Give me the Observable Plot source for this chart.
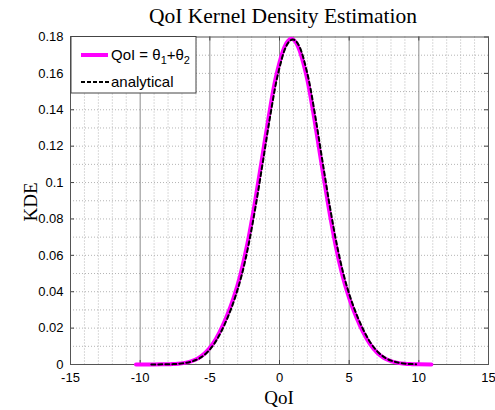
<!DOCTYPE html>
<html>
<head>
<meta charset="utf-8">
<script src="https://cdn.jsdelivr.net/npm/d3@7"></script>
<script src="https://cdn.jsdelivr.net/npm/@observablehq/plot@0.6"></script>
<style>
  html, body { margin: 0; padding: 0; background: #fff; }
  #wrap { position: relative; width: 495px; height: 410px; overflow: hidden; }
  #overlay { position: absolute; left: 0; top: 0; pointer-events: none; }
</style>
</head>
<body>
<div id="wrap"><div id="chart"></div>
<svg id="overlay" width="495" height="410" xmlns="http://www.w3.org/2000/svg">
  <text x="283" y="23" text-anchor="middle" font-family="'Liberation Serif', 'Times New Roman', serif" font-size="21.5" fill="#000">QoI Kernel Density Estimation</text>
  <text x="279" y="404" text-anchor="middle" font-family="'Liberation Serif', 'Times New Roman', serif" font-size="19" fill="#000">QoI</text>
  <text transform="translate(37,202) rotate(-90)" text-anchor="middle" font-family="'Liberation Serif', 'Times New Roman', serif" font-size="19" fill="#000">KDE</text>
  <g id="legend">
    <rect x="71" y="36.5" width="125" height="56.5" fill="#fff" stroke="#444" stroke-width="1"/>
    <line x1="81" y1="55" x2="108" y2="55" stroke="#ff00ff" stroke-width="4"/>
    <text x="111" y="60" font-family="'Liberation Sans', Arial, sans-serif" font-size="15" fill="#000">QoI = θ<tspan font-size="11" dy="4">1</tspan><tspan dy="-4">+θ</tspan><tspan font-size="11" dy="4">2</tspan></text>
    <line x1="81" y1="82" x2="109" y2="82" stroke="#000" stroke-width="2" stroke-dasharray="4,2"/>
    <text x="111" y="87" font-family="'Liberation Sans', Arial, sans-serif" font-size="15" fill="#000">analytical</text>
  </g>
</svg>
</div>
<script>
// ---- data ----
const kdeX = [-10.3, -9, -8.3, -7.8, -7.3, -6.8, -6.3, -5.8, -5.3, -4.8, -4.3, -3.8, -3.3, -2.8, -2.3, -1.8, -1.3, -0.8, -0.3, -0.15, 0.35, 0.85, 1.35, 1.85, 2, 2.5, 3, 3.5, 4, 4.5, 5, 5.5, 6, 6.5, 7, 7.5, 8, 8.5, 9, 9.5, 10, 10.9];
const kdeY = [0, 0, 0.0001, 0.0002, 0.0004, 0.0009, 0.0019, 0.0036, 0.0066, 0.0112, 0.0178, 0.0262, 0.0365, 0.0495, 0.0665, 0.0875, 0.1110, 0.1350, 0.1565, 0.1615, 0.1744, 0.1790, 0.1744, 0.1615, 0.1565, 0.1350, 0.1110, 0.0875, 0.0665, 0.0495, 0.0365, 0.0262, 0.0178, 0.0112, 0.0066, 0.0036, 0.0019, 0.0009, 0.0004, 0.0002, 0.0001, 0];

const anaX = [-9.2, -8.2, -7.7, -7.2, -6.7, -6.2, -5.7, -5.2, -4.7, -4.2, -3.7, -3.2, -2.7, -2.2, -1.7, -1.2, -0.7, -0.2, -0.05, 0.45, 0.95, 1.45, 1.95, 2.1, 2.6, 3.1, 3.6, 4.1, 4.6, 5.1, 5.6, 6.1, 6.6, 7.1, 7.6, 8.1, 8.6, 9.1, 9.6, 9.8];
const anaY = [0, 0.0001, 0.0002, 0.0004, 0.0009, 0.0019, 0.0036, 0.0066, 0.0112, 0.0178, 0.0262, 0.0365, 0.0495, 0.0665, 0.0875, 0.1110, 0.1350, 0.1565, 0.1615, 0.1744, 0.1786, 0.1744, 0.1615, 0.1565, 0.1350, 0.1110, 0.0875, 0.0665, 0.0495, 0.0365, 0.0262, 0.0178, 0.0112, 0.0066, 0.0036, 0.0019, 0.0009, 0.0004, 0.0002, 0.0001];

const xTicks = [-15, -10, -5, 0, 5, 10, 15];
const yTicks = [0, 0.02, 0.04, 0.06, 0.08, 0.1, 0.12, 0.14, 0.16, 0.18];
const xMajorGrid = [-10, -5, 0, 5, 10];
const xMinorGrid = [-14, -13, -12, -11, -9, -8, -7, -6, -4, -3, -2, -1, 1, 2, 3, 4, 6, 7, 8, 9, 11, 12, 13, 14];
const yMinorGrid = [0.01, 0.02, 0.03, 0.04, 0.05, 0.06, 0.07, 0.08, 0.09, 0.1, 0.11, 0.12, 0.13, 0.14, 0.15, 0.16, 0.17];

const kde = kdeX.map((x, i) => ({x, y: kdeY[i]}));
const ana = anaX.map((x, i) => ({x, y: anaY[i]}));

const fmt = d => String(+d.toFixed(2));

const chart = Plot.plot({
  width: 495,
  height: 410,
  marginLeft: 70,
  marginRight: 7,
  marginTop: 36.5,
  marginBottom: 46,
  style: {fontFamily: "'Liberation Sans', Arial, sans-serif", fontSize: "13px", color: "#000", background: "#fff"},
  x: {domain: [-15, 15]},
  y: {domain: [0, 0.18]},
  marks: [
    Plot.gridX(xMinorGrid, {stroke: "#b4b4b4", strokeOpacity: 1, strokeDasharray: "1,2"}),
    Plot.gridY(yMinorGrid, {stroke: "#b4b4b4", strokeOpacity: 1, strokeDasharray: "1,2"}),
    Plot.gridX(xMajorGrid, {stroke: "#8a8a8a", strokeOpacity: 1, strokeWidth: 1}),
    Plot.axisX(xTicks, {tickSize: 0, tickPadding: 8, tickFormat: fmt, label: null, fontSize: 13}),
    Plot.axisY(yTicks, {tickSize: 0, tickPadding: 7, tickFormat: fmt, label: null, fontSize: 13}),
    // inward tick marks (box on all sides)
    Plot.ruleX(xTicks, {x: d => d, y1: 0, y2: 0.0022, stroke: "#444"}),
    Plot.ruleX(xTicks, {x: d => d, y1: 0.18, y2: 0.1778, stroke: "#444"}),
    Plot.ruleY(yTicks, {y: d => d, x1: -15, x2: -14.71, stroke: "#444"}),
    Plot.ruleY(yTicks, {y: d => d, x1: 15, x2: 14.71, stroke: "#444"}),
    Plot.frame({stroke: "#555"}),
    Plot.line(kde, {x: "x", y: "y", stroke: "#ff00ff", strokeWidth: 4, curve: "monotone-x"}),
    Plot.line(ana, {x: "x", y: "y", stroke: "#000", strokeWidth: 2, strokeDasharray: "4,3", curve: "monotone-x"})
  ]
});
document.getElementById("chart").appendChild(chart);
</script>
</body>
</html>
